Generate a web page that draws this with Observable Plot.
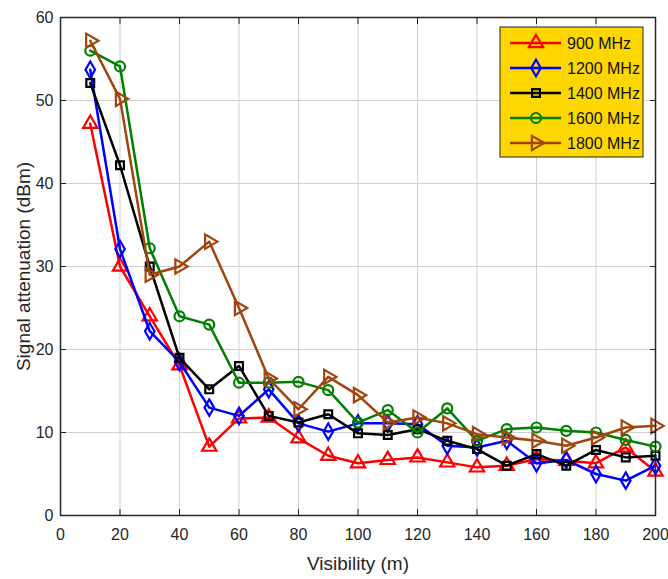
<!DOCTYPE html>
<html><head><meta charset="utf-8">
<script src="https://cdn.jsdelivr.net/npm/d3@7"></script>
<script src="https://cdn.jsdelivr.net/npm/@observablehq/plot@0.6"></script>
<style>
body{margin:0;background:#fff;}
#chart{width:668px;height:579px;}
</style></head><body><div id="chart"></div>
<script>
const visibility = [10,20,30,40,50,60,70,80,90,100,110,120,130,140,150,160,170,180,190,200];
const att900  = [47.2,30.0,24.0,18.1,8.3,11.7,11.8,9.3,7.2,6.3,6.7,7.0,6.4,5.8,6.0,6.8,6.6,6.3,8.2,5.3];
const att1200 = [53.7,32.1,22.2,18.5,13.0,12.0,15.2,11.1,10.1,11.1,11.1,11.0,8.4,8.2,9.0,6.3,6.7,5.0,4.2,6.0];
const att1400 = [52.1,42.2,30.0,19.0,15.2,18.0,12.0,11.2,12.2,9.9,9.7,10.4,9.0,8.0,6.0,7.4,6.0,7.9,7.0,7.2];
const att1600 = [56.0,54.1,32.2,24.0,23.0,16.0,16.0,16.1,15.1,11.2,12.7,10.0,12.9,9.0,10.4,10.6,10.2,10.0,9.1,8.3];
const att1800 = [57.2,50.2,29.0,30.0,33.0,25.0,16.5,12.8,16.7,14.5,11.2,11.8,11.1,9.8,9.4,9.0,8.4,9.4,10.6,10.8];
const seriesNames = ["900 MHz","1200 MHz","1400 MHz","1600 MHz","1800 MHz"];
const seriesValues = [att900, att1200, att1400, att1600, att1800];
const seriesColors = ["#FF0000","#0000FF","#000000","#008000","#A2440E"];
const xTicks = [0,20,40,60,80,100,120,140,160,180,200];
const yTicks = [0,10,20,30,40,50,60];

const triangleRight = {
  draw(ctx, size) {
    const y = -Math.sqrt(size / (Math.sqrt(3) * 3));
    ctx.moveTo(-2 * y, 0);
    ctx.lineTo(y, Math.sqrt(3) * y);
    ctx.lineTo(y, -Math.sqrt(3) * y);
    ctx.closePath();
  }
};
const seriesSymbols = [d3.symbolTriangle, d3.symbolDiamond, d3.symbolSquare, d3.symbolCircle, triangleRight];
const seriesR = [5.3, 5, 4.4, 5, 5.3];

const rows = seriesNames.flatMap((s, i) => visibility.map((x, j) => ({series: s, x, y: seriesValues[i][j]})));

const font = "'Liberation Sans Narrow', 'Liberation Sans', Arial, sans-serif";
const marks = [
  Plot.gridX(xTicks, {stroke: "#d0d0d0", strokeOpacity: 1, strokeWidth: 1}),
  Plot.gridY(yTicks, {stroke: "#d0d0d0", strokeOpacity: 1, strokeWidth: 1}),
];
seriesNames.forEach((s, i) => {
  const d = rows.filter(r => r.series === s);
  marks.push(Plot.line(d, {x: "x", y: "y", stroke: seriesColors[i], strokeWidth: 2.5}));
  marks.push(Plot.dot(d, {x: "x", y: "y", stroke: seriesColors[i], fill: "none", strokeWidth: 2.2, symbol: seriesSymbols[i], r: seriesR[i]}));
});
marks.push(
  Plot.axisX(xTicks, {anchor: "bottom", tickSize: -6, tickPadding: 19, fontSize: 16, label: "Visibility (m)", labelArrow: "none", labelAnchor: "center", labelOffset: 54, stroke: "#262626"}),
  Plot.axisX(xTicks, {anchor: "top", tickSize: -6, tickFormat: () => "", label: null, stroke: "#262626"}),
  Plot.axisY(yTicks, {anchor: "left", tickSize: -6, tickPadding: 13, fontSize: 16, label: "Signal attenuation (dBm)", labelArrow: "none", labelAnchor: "center", labelOffset: 44, stroke: "#262626"}),
  Plot.axisY(yTicks, {anchor: "right", tickSize: -6, tickFormat: () => "", label: null, stroke: "#262626"}),
  Plot.frame({stroke: "#262626", strokeWidth: 1.5})
);

const chart = Plot.plot({
  width: 668, height: 579,
  marginLeft: 60, marginRight: 13, marginTop: 17, marginBottom: 64,
  style: {fontFamily: font, fontSize: "16px", color: "#262626", background: "#fff"},
  x: {domain: [0, 200]},
  y: {domain: [0, 60]},
  marks
});
document.getElementById("chart").appendChild(chart);

const svg = d3.select(chart);
svg.selectAll("[aria-label='x-axis label'] text, [aria-label='y-axis label'] text")
  .attr("font-size", 19)
  .each(function() { this.textContent = this.textContent.replace(/\s*[↑→↓←]\s*/g, "").trim(); });

// legend
const lg = svg.append("g").attr("transform", "translate(500,27)").attr("text-anchor", "start");
lg.append("rect").attr("width", 143).attr("height", 130).attr("fill", "#FFD700").attr("stroke", "#262626").attr("stroke-width", 1);
seriesNames.forEach((s, i) => {
  const yy = 16 + i * 25;
  lg.append("line").attr("x1", 10).attr("x2", 61).attr("y1", yy).attr("y2", yy).attr("stroke", seriesColors[i]).attr("stroke-width", 2.5);
  lg.append("path").attr("transform", `translate(36,${yy})`).attr("d", d3.symbol(seriesSymbols[i], seriesR[i] * seriesR[i] * Math.PI)()).attr("fill", "none").attr("stroke", seriesColors[i]).attr("stroke-width", 2.2);
  lg.append("text").attr("x", 67).attr("y", yy).attr("dy", "0.35em").attr("text-anchor", "start").attr("font-size", 16).attr("font-family", font).attr("fill", "#111").text(s);
});
</script></body></html>
